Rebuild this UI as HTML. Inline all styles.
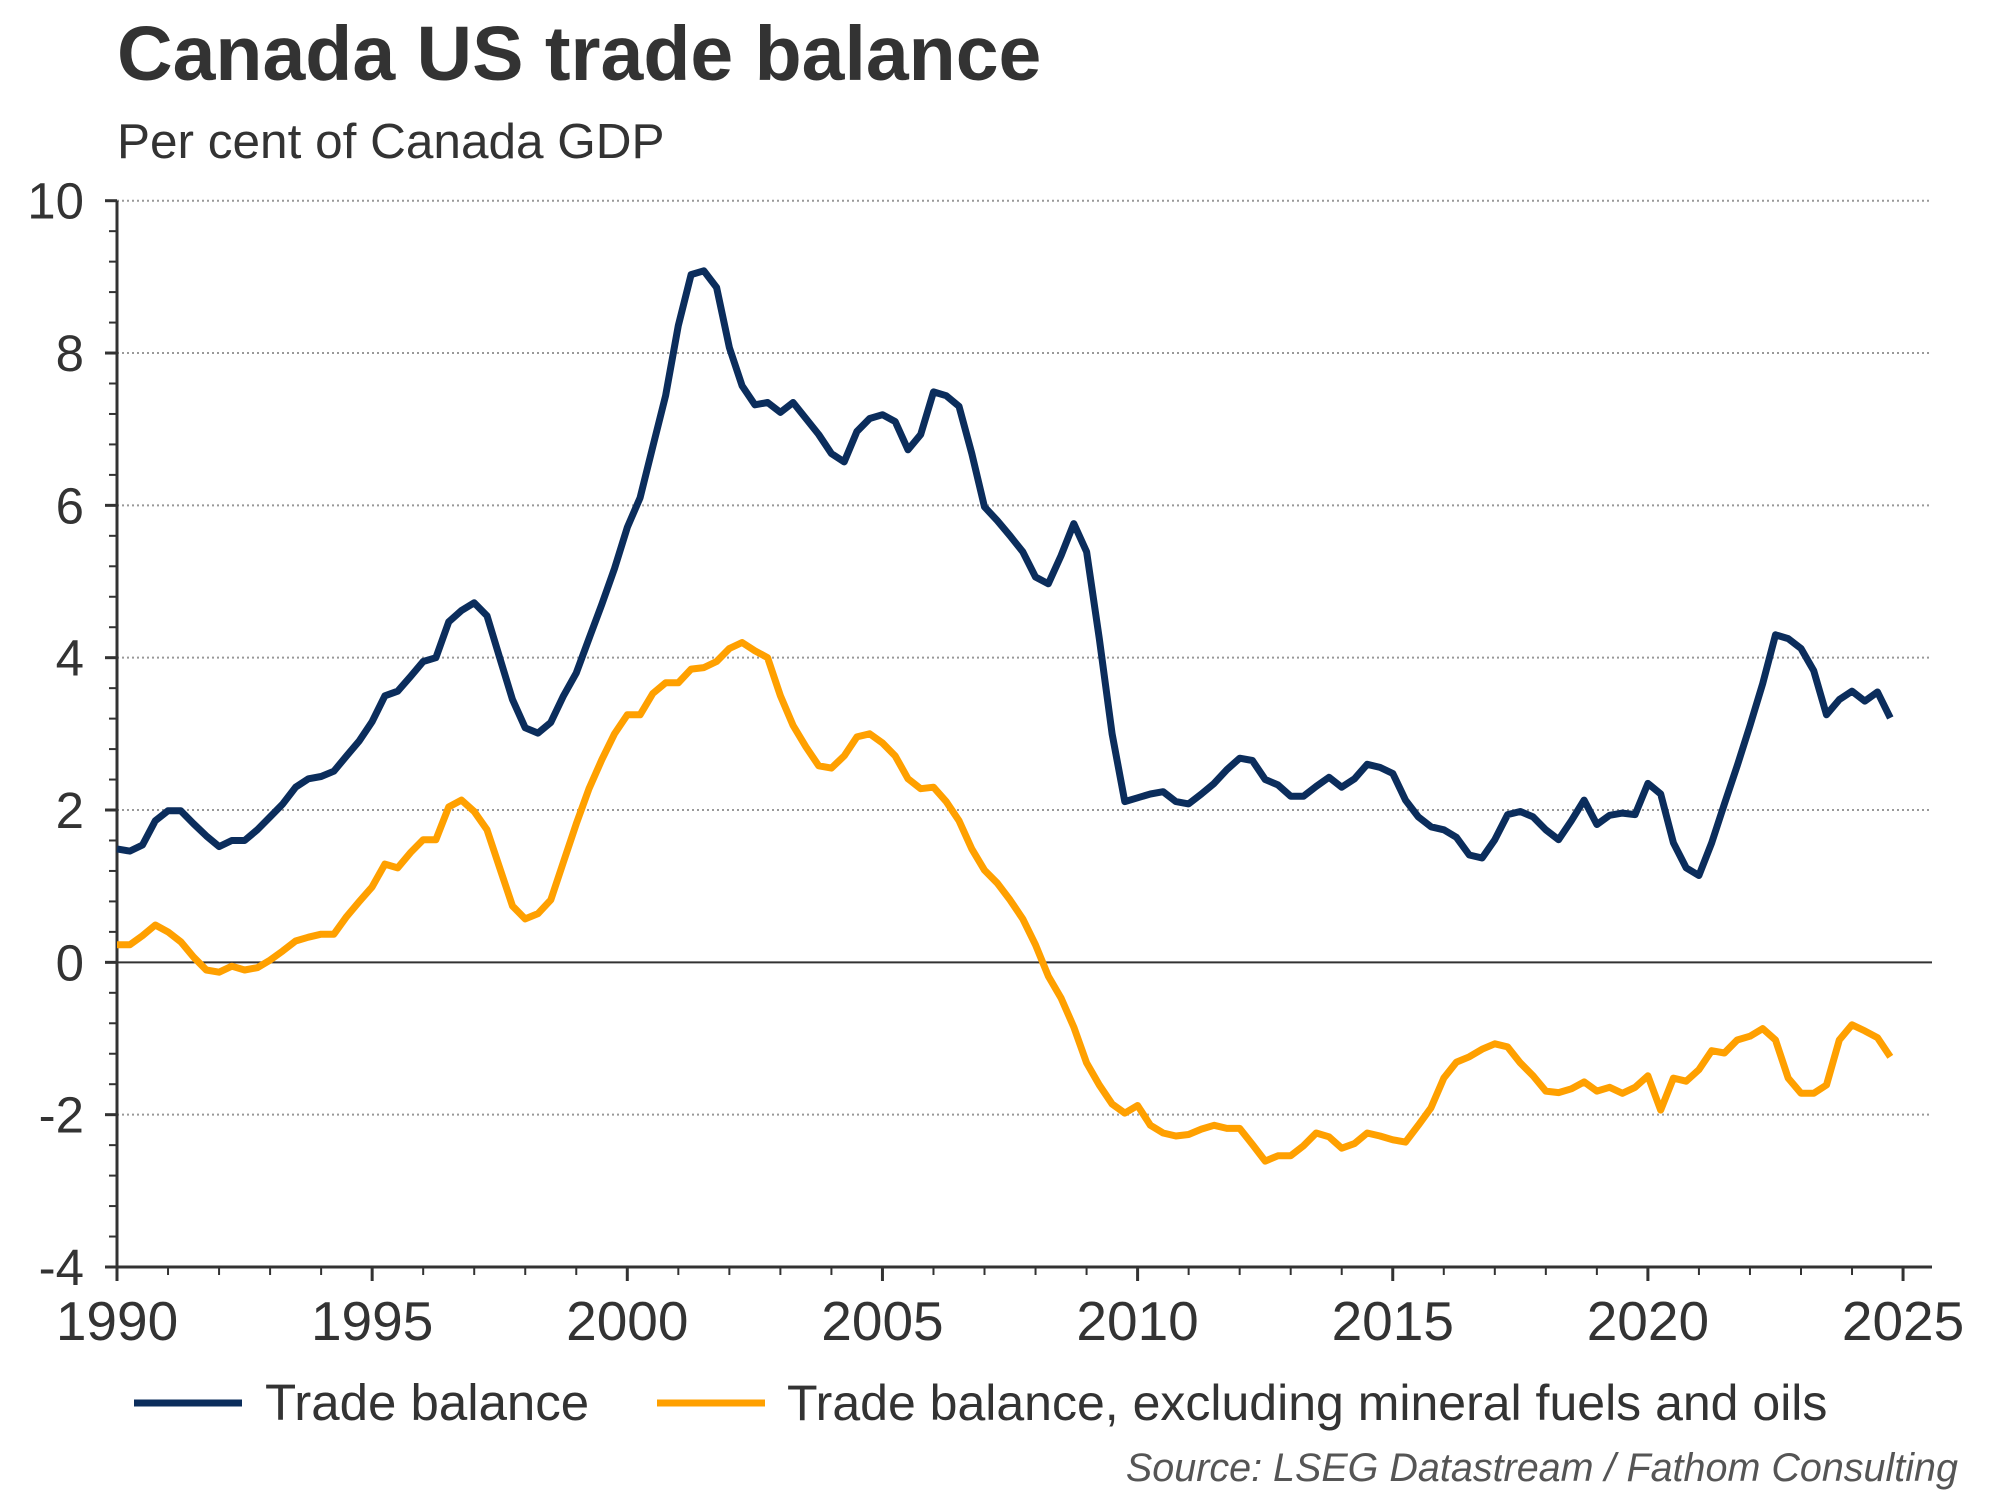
<!DOCTYPE html>
<html><head><meta charset="utf-8"><style>
body{margin:0;background:#fff;}
svg{display:block;font-family:"Liberation Sans",sans-serif;}
</style></head><body>
<svg id="chart" width="2000" height="1500" viewBox="0 0 2000 1500">
<text x="117" y="80" font-size="77" font-weight="bold" fill="#333">Canada US trade balance</text>
<text x="117" y="158" font-size="49.5" fill="#333">Per cent of Canada GDP</text>
<g id="grid"></g><g id="axes"></g><g id="series"></g>
<g>
<line x1="134" y1="1403" x2="242" y2="1403" stroke="#0b2d5c" stroke-width="7"/>
<text x="265" y="1420" font-size="51" fill="#333">Trade balance</text>
<line x1="657" y1="1403" x2="765" y2="1403" stroke="#ffa000" stroke-width="7"/>
<text x="787" y="1420" font-size="50" fill="#333">Trade balance, excluding mineral fuels and oils</text>
</g>
<text x="1958" y="1481" font-size="39.5" font-style="italic" fill="#555" text-anchor="end">Source: LSEG Datastream / Fathom Consulting</text>
</svg>
<script>
const startYear = 1990;
const yTicks = [-4,-2,0,2,4,6,8,10];
const xTickYears = [1990,1995,2000,2005,2010,2015,2020,2025];
const tradeBalance = [1.49,1.46,1.54,1.86,1.99,1.99,1.82,1.66,1.52,1.6,1.6,1.74,1.91,2.08,2.3,2.41,2.44,2.51,2.71,2.91,3.16,3.5,3.56,3.75,3.95,4.0,4.47,4.62,4.72,4.55,4.0,3.45,3.08,3.01,3.15,3.5,3.8,4.25,4.7,5.17,5.71,6.1,6.77,7.44,8.36,9.03,9.08,8.86,8.07,7.57,7.32,7.35,7.22,7.35,7.14,6.93,6.68,6.57,6.97,7.14,7.19,7.1,6.73,6.93,7.49,7.44,7.3,6.68,5.98,5.8,5.6,5.39,5.06,4.97,5.34,5.76,5.39,4.25,3.0,2.11,2.16,2.21,2.24,2.11,2.08,2.21,2.35,2.53,2.68,2.65,2.4,2.33,2.18,2.18,2.31,2.43,2.3,2.41,2.6,2.56,2.48,2.13,1.91,1.78,1.74,1.64,1.41,1.37,1.61,1.94,1.98,1.91,1.74,1.61,1.86,2.13,1.81,1.93,1.96,1.94,2.35,2.21,1.57,1.24,1.14,1.57,2.08,2.58,3.11,3.66,4.3,4.25,4.12,3.83,3.25,3.45,3.56,3.43,3.55,3.21];
const exFuels = [0.23,0.23,0.35,0.49,0.4,0.27,0.07,-0.1,-0.13,-0.05,-0.1,-0.07,0.03,0.15,0.28,0.33,0.37,0.37,0.6,0.8,0.99,1.29,1.24,1.44,1.61,1.61,2.04,2.13,1.98,1.74,1.24,0.74,0.57,0.64,0.82,1.32,1.82,2.28,2.66,3.0,3.25,3.25,3.53,3.67,3.67,3.85,3.87,3.95,4.12,4.2,4.09,4.0,3.5,3.11,2.83,2.58,2.55,2.71,2.96,3.0,2.88,2.71,2.41,2.28,2.3,2.11,1.86,1.49,1.21,1.04,0.82,0.57,0.23,-0.18,-0.47,-0.85,-1.32,-1.61,-1.86,-1.98,-1.88,-2.14,-2.24,-2.28,-2.26,-2.19,-2.14,-2.18,-2.18,-2.39,-2.61,-2.54,-2.54,-2.41,-2.24,-2.29,-2.44,-2.38,-2.24,-2.28,-2.33,-2.36,-2.14,-1.91,-1.52,-1.31,-1.24,-1.14,-1.07,-1.11,-1.32,-1.49,-1.69,-1.71,-1.66,-1.57,-1.69,-1.64,-1.72,-1.64,-1.49,-1.94,-1.52,-1.56,-1.41,-1.16,-1.19,-1.02,-0.97,-0.87,-1.02,-1.52,-1.72,-1.72,-1.61,-1.02,-0.82,-0.9,-0.99,-1.24];

const NS="http://www.w3.org/2000/svg";
const L=117,R=1932,T=200.7,B=1267;
const x=yr=>L+(yr-1990)*51.03;
const y=v=>T+(10-v)*(B-T)/14;
function mk(tag,attrs,parent){const e=document.createElementNS(NS,tag);for(const k in attrs)e.setAttribute(k,attrs[k]);parent.appendChild(e);return e;}
const grid=document.getElementById('grid'),axes=document.getElementById('axes'),ser=document.getElementById('series');
yTicks.forEach(v=>{
  if(v!==-4&&v!==0){const g=mk('line',{x1:L,x2:R,y1:y(v),y2:y(v),stroke:'#999','stroke-width':2,'stroke-dasharray':'2 3'},grid);
  
  }
  const t=mk('line',{x1:L-12,x2:L,y1:y(v),y2:y(v),stroke:'#333','stroke-width':3},axes);
  
  
  const lb=mk('text',{x:84,y:y(v)+18,'font-size':51,fill:'#333','text-anchor':'end'},axes);lb.textContent=v;
  
  
});
for(let v=-4;v<10;v+=0.4){if(Math.abs(v-Math.round(v/2)*2)<0.01)continue;
  const t=mk('line',{x1:L-8,x2:L,y1:y(v),y2:y(v),stroke:'#333','stroke-width':2},axes);
  
  }
const z=mk('line',{x1:L,x2:R,y1:y(0),y2:y(0),stroke:'#333','stroke-width':2},axes);


const ya=mk('line',{x1:L,x2:L,y1:T,y2:B,stroke:'#333','stroke-width':3},axes);


const xa=mk('line',{x1:L-12,x2:R,y1:B,y2:B,stroke:'#333','stroke-width':3},axes);


for(let yr=1990;yr<=2025;yr++){const maj=yr%5===0;
  const t=mk('line',{x1:x(yr),x2:x(yr),y1:B,y2:B+(maj?14:8),stroke:'#333','stroke-width':maj?3:2},axes);
  
  }
xTickYears.forEach(yr=>{const lb=mk('text',{x:x(yr),y:1340,'font-size':55,fill:'#333','text-anchor':'middle'},axes);lb.textContent=yr;
  
  });
function line(arr,color,name){const d=arr.map((v,i)=>(i?'L':'M')+x(startYear+i*0.25).toFixed(1)+' '+y(v).toFixed(1)).join('');
  const p=mk('path',{d:d,fill:'none',stroke:color,'stroke-width':7,'stroke-linejoin':'round'},ser);
  
  }
line(exFuels,'#ffa000','line-trade-balance-ex-fuels');
line(tradeBalance,'#0b2d5c','line-trade-balance');
</script>
</body></html>
